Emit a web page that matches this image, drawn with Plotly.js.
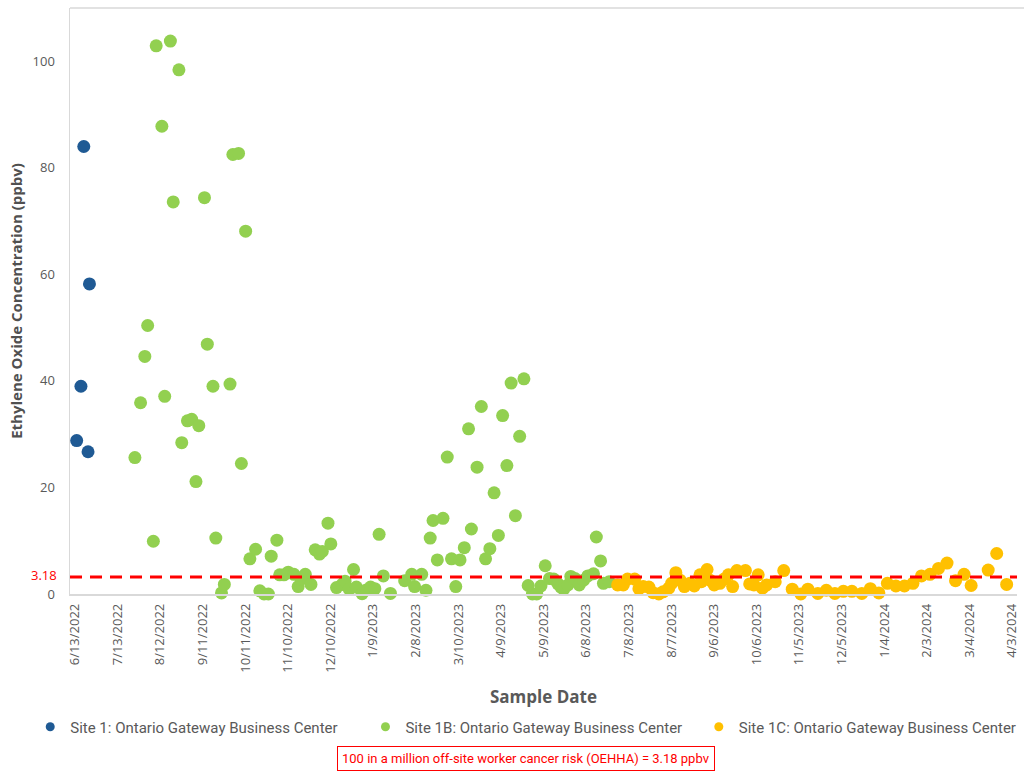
<!DOCTYPE html>
<html><head><meta charset="utf-8">
<script src="https://cdn.plot.ly/plotly-3.0.1.min.js"></script>
<style>body{margin:0;background:#fff}#chart{width:1029px;height:777px}</style>
</head><body><div id="chart"></div>
<script>
// ---- data ----
const site1Dates = ['2022-06-17','2022-06-20','2022-06-22','2022-06-25','2022-06-26'];
const site1Values = [28.8,39.0,84.0,26.7,58.2];

const site1bDates = [
'2022-07-28','2022-08-01','2022-08-04','2022-08-06','2022-08-10','2022-08-12','2022-08-16','2022-08-18','2022-08-22','2022-08-24',
'2022-08-28','2022-08-30','2022-09-03','2022-09-06','2022-09-09','2022-09-11','2022-09-15','2022-09-17','2022-09-21','2022-09-23',
'2022-09-27','2022-09-29','2022-10-03','2022-10-05','2022-10-09','2022-10-11','2022-10-14','2022-10-17','2022-10-21','2022-10-24',
'2022-10-27','2022-10-30','2022-11-01','2022-11-05','2022-11-07','2022-11-10','2022-11-13','2022-11-17','2022-11-20','2022-11-22',
'2022-11-25','2022-11-29','2022-12-02','2022-12-05','2022-12-07','2022-12-11','2022-12-13','2022-12-17','2022-12-21','2022-12-23',
'2022-12-26','2022-12-29','2022-12-31','2023-01-04','2023-01-07','2023-01-10','2023-01-13','2023-01-16','2023-01-19','2023-01-24',
'2023-02-03','2023-02-08','2023-02-10','2023-02-15','2023-02-18','2023-02-21','2023-02-23','2023-02-26','2023-03-02','2023-03-05',
'2023-03-08','2023-03-11','2023-03-14','2023-03-17','2023-03-20','2023-03-22','2023-03-26','2023-03-29','2023-04-01','2023-04-04',
'2023-04-07','2023-04-10','2023-04-13','2023-04-16','2023-04-19','2023-04-22','2023-04-25','2023-04-28','2023-05-01','2023-05-04',
'2023-05-07','2023-05-10','2023-05-13','2023-05-16','2023-05-19','2023-05-22','2023-05-24','2023-05-26','2023-05-29','2023-05-31',
'2023-06-03','2023-06-06','2023-06-09','2023-06-12','2023-06-16','2023-06-18','2023-06-21','2023-06-23','2023-06-27'];
const site1bValues = [
25.6,35.9,44.6,50.4,9.9,102.9,87.8,37.1,103.8,73.6,
98.4,28.4,32.5,32.8,21.1,31.6,74.4,46.9,39.0,10.5,
0.2,1.8,39.4,82.5,82.7,24.5,68.1,6.6,8.4,0.6,
0,0,7.1,10.1,3.6,3.6,4.1,3.7,1.4,2.8,
3.7,1.8,8.3,7.5,8.0,13.3,9.4,1.2,1.8,2.4,
0.9,4.6,1.3,0.05,0.75,1.3,1.0,11.2,3.4,0.1,
2.5,3.7,1.4,3.7,0.7,10.5,13.8,6.4,14.2,25.7,
6.6,1.4,6.4,8.7,31.0,12.2,23.8,35.2,6.6,8.5,
19.0,11.0,33.5,24.1,39.6,14.7,29.6,40.4,1.6,0,
0,1.5,5.3,2.9,2.8,1.9,1.3,0.9,1.7,3.3,
2.9,1.7,2.6,3.4,3.8,10.7,6.2,2.0,2.3];

const site1cDates = [
'2023-07-03','2023-07-07','2023-07-10','2023-07-15','2023-07-18','2023-07-21','2023-07-25','2023-07-28','2023-08-01','2023-08-04',
'2023-08-08','2023-08-10','2023-08-13','2023-08-16','2023-08-19','2023-08-23','2023-08-26','2023-08-30','2023-08-31','2023-09-04',
'2023-09-06','2023-09-09','2023-09-13','2023-09-16','2023-09-19','2023-09-22','2023-09-25','2023-10-01','2023-10-04','2023-10-07',
'2023-10-10','2023-10-13','2023-10-16','2023-10-22','2023-10-28','2023-11-03','2023-11-09','2023-11-14','2023-11-21','2023-11-27',
'2023-12-03','2023-12-09','2023-12-15','2023-12-22','2023-12-28','2024-01-03','2024-01-09','2024-01-15','2024-01-21','2024-01-27',
'2024-02-02','2024-02-08','2024-02-14','2024-02-20','2024-02-26','2024-03-03','2024-03-08','2024-03-20','2024-03-26','2024-04-02'];
const site1cValues = [
1.7,1.7,2.8,2.8,1.0,1.4,1.3,0.25,0,0.4,
1.1,2.0,4.0,2.6,1.4,2.0,1.5,3.6,2.3,4.6,
2.6,1.7,2.0,2.8,3.6,1.4,4.4,4.4,1.9,1.7,
3.6,1.1,1.7,2.3,4.4,0.9,0,0.9,0.1,0.7,
0.1,0.5,0.5,0.1,1.0,0.2,2.0,1.5,1.5,2.0,
3.4,3.7,4.8,5.8,2.5,3.7,1.6,4.5,7.6,1.8];

const tickDates = ['2022-06-13','2022-07-13','2022-08-12','2022-09-11','2022-10-11','2022-11-10','2022-12-10','2023-01-09','2023-02-08','2023-03-10','2023-04-09','2023-05-09','2023-06-08','2023-07-08','2023-08-07','2023-09-06','2023-10-06','2023-11-05','2023-12-05','2024-01-04','2024-02-03','2024-03-04','2024-04-03'];
const tickLabels = ['6/13/2022','7/13/2022','8/12/2022','9/11/2022','10/11/2022','11/10/2022','12/10/2022','1/9/2023','2/8/2023','3/10/2023','4/9/2023','5/9/2023','6/8/2023','7/8/2023','8/7/2023','9/6/2023','10/6/2023','11/5/2023','12/5/2023','1/4/2024','2/3/2024','3/4/2024','4/3/2024'];
const seriesNames = ['Site 1: Ontario Gateway Business Center','Site 1B: Ontario Gateway Business Center','Site 1C: Ontario Gateway Business Center'];
const riskLevel = 3.18;
const riskLabel = '100 in a million off-site worker cancer risk (OEHHA) = 3.18 ppbv';

// ---- styles ----
const colors = ['#1f5a94','#92d050','#ffc000'];
const narrow = 'Liberation Sans Narrow, Arial Narrow, Roboto, sans-serif';
const gray = '#595959';
const legendX = [-0.042, 0.312, 0.664];
const legendIds = ['legend','legend2','legend3'];

const xs = [site1Dates, site1bDates, site1cDates];
const ys = [site1Values, site1bValues, site1cValues];
const traces = [];
for (let i = 0; i < 3; i++) {
  traces.push({type:'scatter', mode:'markers', x:xs[i], y:ys[i], name:seriesNames[i], showlegend:false,
    marker:{color:colors[i], size:13, line:{width:0}}, cliponaxis:false});
}
for (let i = 0; i < 3; i++) {
  traces.push({type:'scatter', mode:'markers', x:[null], y:[null], name:seriesNames[i], showlegend:true,
    legend:legendIds[i], marker:{color:colors[i], size:9}});
}

const layout = {
  width:1029, height:777,
  margin:{l:70, r:7, t:8, b:183},
  paper_bgcolor:'#fff', plot_bgcolor:'#fff',
  font:{family:'Open Sans, sans-serif', color:gray},
  showlegend:true,
  xaxis:{type:'date', range:['2022-06-12 07:00','2024-04-09 07:00'], tickvals:tickDates, ticktext:tickLabels,
    tickangle:-90, ticklabelshift:4, ticklabelstandoff:3, tickfont:{size:13, color:gray}, showgrid:false, zeroline:false, showline:true, linecolor:'#d9d9d9', linewidth:1.5,
    ticks:'', title:{text:'<b>Sample Date</b>', font:{size:17, color:gray}, standoff:19}},
  yaxis:{range:[0,110], tickvals:[0,20,40,60,80,100], tickfont:{size:13, color:gray}, showgrid:false, zeroline:false,
    showline:true, linecolor:'#d9d9d9', linewidth:1.5, ticks:'', ticklen:0, ticklabelstandoff:11,
    title:{text:'<b>Ethylene Oxide Concentration (ppbv)</b>', font:{size:15, color:'#505050'}, standoff:6}},
  shapes:[
    {type:'line', xref:'paper', x0:0, x1:1, yref:'y', y0:riskLevel, y1:riskLevel, line:{color:'#ff0000', width:3, dash:'12px,8px'}},
    {type:'line', xref:'paper', x0:0, x1:1.0074, yref:'paper', y0:1, y1:1, line:{color:'#d9d9d9', width:1.5}}
  ],
  annotations:[
    {xref:'paper', x:0, xanchor:'right', xshift:-12, yref:'y', y:riskLevel, yshift:2, text:String(riskLevel), showarrow:false,
      font:{size:13, color:'#ff0000'}, borderpad:0},
    {xref:'paper', x:0.481, xanchor:'center', yref:'paper', y:-0.280, yanchor:'middle', text:riskLabel, showarrow:false,
      font:{family:narrow, size:13, color:'#ff0000'}, bordercolor:'#ff0000', borderwidth:1, borderpad:4, bgcolor:'#fff'}
  ]
};
for (let i = 0; i < 3; i++) {
  layout[legendIds[i]] = {orientation:'h', x:legendX[i], xanchor:'left', y:-0.227, yanchor:'middle',
    font:{family:narrow, size:15, color:gray}, itemsizing:'trace', bgcolor:'rgba(0,0,0,0)'};
}
Plotly.newPlot('chart', traces, layout, {displayModeBar:false, staticPlot:true});
</script>
</body></html>
